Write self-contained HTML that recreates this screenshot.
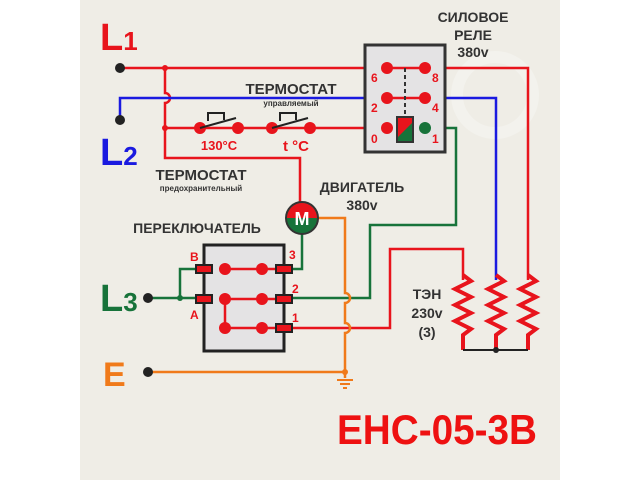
<!DOCTYPE html>
<html><head><meta charset="utf-8"><style>html,body{margin:0;padding:0;background:#fff}svg{display:block}</style></head><body>
<svg width="640" height="480" viewBox="0 0 640 480" xmlns="http://www.w3.org/2000/svg" font-family="Liberation Sans, sans-serif" font-weight="bold">
<rect x="80" y="0" width="480" height="480" fill="#efede6"/>
<circle cx="495" cy="95" r="38" fill="none" stroke="#f3f2ed" stroke-width="12"/>
<g fill="none" stroke-width="2.5">
<path d="M120 68 H528 V280" stroke="#e8141c"/>
<path d="M165 68 V93 A5 5 0 0 1 165 103 V158 H300 V203" stroke="#e8141c"/>
<path d="M165 128 H387" stroke="#e8141c"/>
<path d="M292 328 H390 V249 H463 V280" stroke="#e8141c"/>
<path d="M120 120 V98 H496 V280" stroke="#1a1ae0"/>
<path d="M425 128 H456 V225 H370 V298 H290" stroke="#17733a"/>
<path d="M148 298 H196 M180 298 V269 H196" stroke="#17733a"/>
<path d="M292 269 H302 V234" stroke="#17733a"/>
<path d="M318 218 H345 V293 A5 5 0 0 1 345 303 V323 A5 5 0 0 1 345 333 V378" stroke="#f07a1a"/>
<path d="M148 372 H345" stroke="#f07a1a"/>
<path d="M337 380 H353 M340 384 H350 M343 388 H347" stroke="#f07a1a" stroke-width="2"/>
<path d="M463 275 l8 6 -16 8 16 8 -16 8 16 8 -16 8 16 8 -8 6 V350" stroke="#e8141c" stroke-width="4"/>
<path d="M496 275 l8 6 -16 8 16 8 -16 8 16 8 -16 8 16 8 -8 6 V350" stroke="#e8141c" stroke-width="4"/>
<path d="M528 275 l8 6 -16 8 16 8 -16 8 16 8 -16 8 16 8 -8 6 V350" stroke="#e8141c" stroke-width="4"/>
<path d="M463 350 H528" stroke="#222" stroke-width="2"/>
</g>
<circle cx="496" cy="350" r="3" fill="#222"/>
<circle cx="165" cy="68" r="3" fill="#e8141c"/>
<circle cx="165" cy="128" r="3" fill="#e8141c"/>
<circle cx="180" cy="298" r="3" fill="#17733a"/>
<circle cx="345" cy="372" r="3" fill="#f07a1a"/>
<g fill="#222"><circle cx="120" cy="68" r="5"/><circle cx="120" cy="120" r="5"/><circle cx="148" cy="298" r="5"/><circle cx="148" cy="372" r="5"/></g>
<g fill="#e8141c"><circle cx="200" cy="128" r="6"/><circle cx="238" cy="128" r="6"/><circle cx="272" cy="128" r="6"/><circle cx="310" cy="128" r="6"/></g>
<g fill="none" stroke="#222" stroke-width="2"><path d="M200 128 L236 118 M208 121 V113 H224 V120"/><path d="M272 128 L308 118 M280 121 V113 H296 V120"/></g>
<rect x="365" y="45" width="80" height="107" fill="#e4e3e4" stroke="#333" stroke-width="3"/>
<path d="M387 68 H425 M387 98 H425" stroke="#e8141c" stroke-width="2.5"/>
<path d="M405 68 V116" stroke="#333" stroke-width="2" stroke-dasharray="4 3"/>
<g fill="#e8141c"><circle cx="387" cy="68" r="6"/><circle cx="425" cy="68" r="6"/><circle cx="387" cy="98" r="6"/><circle cx="425" cy="98" r="6"/><circle cx="387" cy="128" r="6"/></g>
<circle cx="425" cy="128" r="6" fill="#17733a"/>
<rect x="397" y="117" width="16" height="25" fill="#17733a" stroke="#333" stroke-width="2"/>
<path d="M398 118 H412 V123 L398 137 Z" fill="#e8141c"/>
<g fill="#e8141c" font-size="12"><text x="371" y="82">6</text><text x="432" y="82">8</text><text x="371" y="112">2</text><text x="432" y="112">4</text><text x="371" y="143">0</text><text x="432" y="143">1</text></g>
<circle cx="302" cy="218" r="16" fill="#17733a" stroke="#333" stroke-width="2"/>
<path d="M287 218 A15 15 0 0 1 317 218 Z" fill="#e8141c"/>
<text x="302" y="225" text-anchor="middle" fill="#fff" font-size="18">M</text>
<rect x="204" y="245" width="80" height="106" fill="#e4e3e4" stroke="#222" stroke-width="3"/>
<path d="M225 269 H262 M225 299 H262 M225 328 H262 M225 299 V328 M262 269 H284 M262 299 H284 M262 328 H284" stroke="#e8141c" stroke-width="2.5"/>
<g fill="#e8141c"><circle cx="225" cy="269" r="6"/><circle cx="262" cy="269" r="6"/><circle cx="225" cy="299" r="6"/><circle cx="262" cy="299" r="6"/><circle cx="225" cy="328" r="6"/><circle cx="262" cy="328" r="6"/></g>
<g fill="#e8141c" stroke="#222" stroke-width="2"><rect x="196" y="265" width="16" height="8"/><rect x="196" y="295" width="16" height="8"/><rect x="276" y="265" width="16" height="8"/><rect x="276" y="295" width="16" height="8"/><rect x="276" y="324" width="16" height="8"/></g>
<g fill="#e8141c" font-size="12"><text x="190" y="261">B</text><text x="190" y="319">A</text><text x="289" y="259">3</text><text x="292" y="293">2</text><text x="292" y="322">1</text></g>
<text x="100" y="50" fill="#e8141c" font-size="38">L<tspan font-size="26">1</tspan></text>
<text x="100" y="165" fill="#1a1ae0" font-size="38">L<tspan font-size="26">2</tspan></text>
<text x="100" y="311" fill="#17733a" font-size="38">L<tspan font-size="26">3</tspan></text>
<text x="103" y="386" fill="#f07a1a" font-size="34">E</text>
<g fill="#333" text-anchor="middle">
<text x="473" y="22" font-size="14">СИЛОВОЕ</text>
<text x="473" y="40" font-size="14">РЕЛЕ</text>
<text x="473" y="57" font-size="14">380v</text>
<text x="291" y="94" font-size="15">ТЕРМОСТАТ</text>
<text x="291" y="106" font-size="8">управляемый</text>
<text x="201" y="180" font-size="15">ТЕРМОСТАТ</text>
<text x="201" y="191" font-size="8">предохранительный</text>
<text x="362" y="192" font-size="14">ДВИГАТЕЛЬ</text>
<text x="362" y="210" font-size="14">380v</text>
<text x="197" y="233" font-size="14">ПЕРЕКЛЮЧАТЕЛЬ</text>
<text x="427" y="299" font-size="14">ТЭН</text>
<text x="427" y="318" font-size="14">230v</text>
<text x="427" y="337" font-size="14">(3)</text>
</g>
<g fill="#e8141c" text-anchor="middle" font-size="13"><text x="219" y="150">130°C</text><text x="296" y="151" font-size="15">t °C</text></g>
<text x="337" y="444" fill="#ee1111" font-size="42" textLength="200" lengthAdjust="spacingAndGlyphs">EHC-05-3B</text>
</svg>
</body></html>
